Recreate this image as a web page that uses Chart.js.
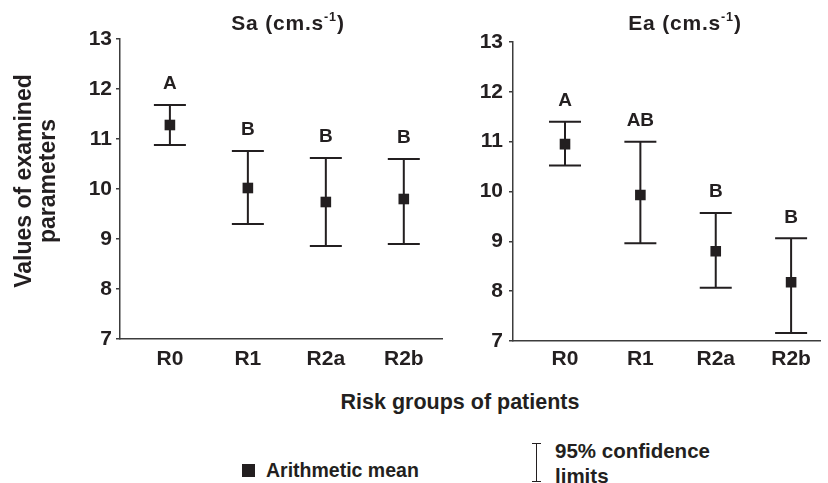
<!DOCTYPE html>
<html>
<head>
<meta charset="utf-8">
<script src="https://cdn.jsdelivr.net/npm/chart.js@4.4.1/dist/chart.umd.min.js"></script>
<style>
    body { margin: 0; background: #fff; }
    #wrap { position: relative; width: 828px; height: 483px; overflow: hidden;
        font-family: "Liberation Sans", Arial, sans-serif; font-weight: bold; color: #231f20; }
    canvas { position: absolute; top: 0; }
    .txt { position: absolute; white-space: nowrap; }
    .panel-title { top: 10px; width: 220px; text-align: center; font-size: 21px; line-height: 26px; letter-spacing: 0.8px; }
    .panel-title sup { font-size: 0.6em; line-height: 0; position: relative; top: -0.1em; }
    #ytitle { left: -115px; top: 157px; width: 300px; text-align: center; font-size: 23px;
        line-height: 24px; transform: rotate(-90deg); transform-origin: 150px 24px; }
    #xtitle { left: 260px; top: 389px; width: 400px; text-align: center; font-size: 21.5px; line-height: 26px; }
    #meanBox { left: 242px; top: 464px; width: 13px; height: 13px; background: #231f20; }
    #meanTxt { left: 266px; top: 458px; font-size: 19.5px; line-height: 24px; }
    #ciIcon { left: 532px; top: 443px; width: 9px; height: 39px; }
    #ciTxt { left: 555px; top: 438px; font-size: 20.5px; line-height: 25px; }
</style>
</head>
<body>
<div id="wrap">
    <canvas id="sa-chart" width="460" height="380" style="left:0"></canvas>
    <canvas id="ea-chart" width="368" height="380" style="left:460px"></canvas>
    <div class="txt panel-title" style="left:178px">Sa (cm.s<sup>-1</sup>)</div>
    <div class="txt panel-title" style="left:575px">Ea (cm.s<sup>-1</sup>)</div>
    <div class="txt" id="ytitle">Values of examined<br>parameters</div>
    <div class="txt" id="xtitle">Risk groups of patients</div>
    <div class="txt" id="meanBox"></div>
    <div class="txt" id="meanTxt">Arithmetic mean</div>
    <svg class="txt" id="ciIcon" viewBox="0 0 9 39">
        <path d="M4.5 0.5V38.5M0 0.5H9M0 38.5H9" stroke="#231f20" stroke-width="1" fill="none"/>
    </svg>
    <div class="txt" id="ciTxt">95% confidence<br>limits</div>
</div>
<script>
// Risk groups on the x axis
const groups = ['R0', 'R1', 'R2a', 'R2b'];
const yTicks = [7, 8, 9, 10, 11, 12, 13];

// Sa (cm.s-1): mean and 95% confidence limits
const saMean = [11.28, 10.02, 9.74, 9.80];
const saLower = [10.88, 9.30, 8.86, 8.90];
const saUpper = [11.68, 10.76, 10.62, 10.60];
const saLetters = ['A', 'B', 'B', 'B'];

// Ea (cm.s-1): mean and 95% confidence limits
const eaMean = [10.95, 9.93, 8.80, 8.18];
const eaLower = [10.52, 8.96, 8.07, 7.16];
const eaUpper = [11.40, 11.00, 9.57, 9.06];
const eaLetters = ['A', 'AB', 'B', 'B'];

const ink = '#231f20';
const axisColor = '#3c3c3c';
const font = '"Liberation Sans", Arial, sans-serif';

// Draws the whiskers, caps and group letters from the scales
const errorBars = {
    id: 'errorBars',
    beforeDatasetsDraw(chart) {
        const ctx = chart.ctx;
        const x = chart.scales.x;
        const y = chart.scales.y;
        const ds = chart.data.datasets[0];
        ctx.save();
        ctx.strokeStyle = ink;
        ctx.lineWidth = 2;
        ds.data.forEach((p, i) => {
            const px = x.getPixelForValue(p.x);
            const top = y.getPixelForValue(ds.upper[i]);
            const bot = y.getPixelForValue(ds.lower[i]);
            ctx.beginPath();
            ctx.moveTo(px, top); ctx.lineTo(px, bot);
            ctx.moveTo(px - 16, top); ctx.lineTo(px + 16, top);
            ctx.moveTo(px - 16, bot); ctx.lineTo(px + 16, bot);
            ctx.stroke();
        });
        ctx.fillStyle = ink;
        ctx.font = 'bold 19px ' + font;
        ctx.textAlign = 'center';
        ctx.textBaseline = 'middle';
        ds.letters.forEach((t, i) => {
            const px = x.getPixelForValue(ds.data[i].x);
            const top = y.getPixelForValue(ds.upper[i]);
            ctx.fillText(t, px, top - 21);
        });
        ctx.restore();
    }
};

function makePanel(id, means, lower, upper, letters, opt) {
    const canvas = document.getElementById(id);
    return new Chart(canvas, {
        type: 'scatter',
        data: {
            datasets: [{
                data: means.map((v, i) => ({ x: i, y: v })),
                lower: lower,
                upper: upper,
                letters: letters,
                pointStyle: 'rect',
                pointRadius: 7.5,
                pointBorderWidth: 0,
                backgroundColor: ink,
                borderColor: ink
            }]
        },
        options: {
            responsive: false,
            animation: false,
            events: [],
            layout: { padding: { top: opt.top, right: opt.right, left: 0, bottom: 0 } },
            plugins: { legend: { display: false }, tooltip: { enabled: false } },
            scales: {
                x: {
                    type: 'linear',
                    min: opt.xMin,
                    max: opt.xMax,
                    afterFit: s => { s.height = opt.xHeight; },
                    afterBuildTicks: s => { s.ticks = groups.map((g, i) => ({ value: i })); },
                    grid: { display: false, drawTicks: false },
                    border: { color: axisColor, width: 1.5 },
                    ticks: {
                        padding: opt.xPad,
                        color: ink,
                        font: { family: font, size: 21, weight: 'bold' },
                        callback: v => groups[v]
                    }
                },
                y: {
                    min: yTicks[0],
                    max: yTicks[yTicks.length - 1],
                    afterFit: s => { s.width = opt.yWidth; },
                    afterBuildTicks: s => { s.ticks = yTicks.map(v => ({ value: v })); },
                    grid: { drawOnChartArea: false, drawTicks: true, tickLength: 4, color: axisColor, lineWidth: 1.5 },
                    border: { color: axisColor, width: 1.5 },
                    ticks: {
                        padding: opt.yPad,
                        color: ink,
                        font: { family: font, size: 21, weight: 'bold' }
                    }
                }
            }
        },
        plugins: [errorBars]
    });
}

makePanel('sa-chart', saMean, saLower, saUpper, saLetters,
    { top: 39, right: 18, xHeight: 41, yWidth: 120, xMin: -0.64, xMax: 3.49, xPad: 8, yPad: 4 });
makePanel('ea-chart', eaMean, eaLower, eaUpper, eaLetters,
    { top: 42, right: 0, xHeight: 39, yWidth: 53, xMin: -0.69, xMax: 3.39, xPad: 6, yPad: 6 });
</script>
</body>
</html>
